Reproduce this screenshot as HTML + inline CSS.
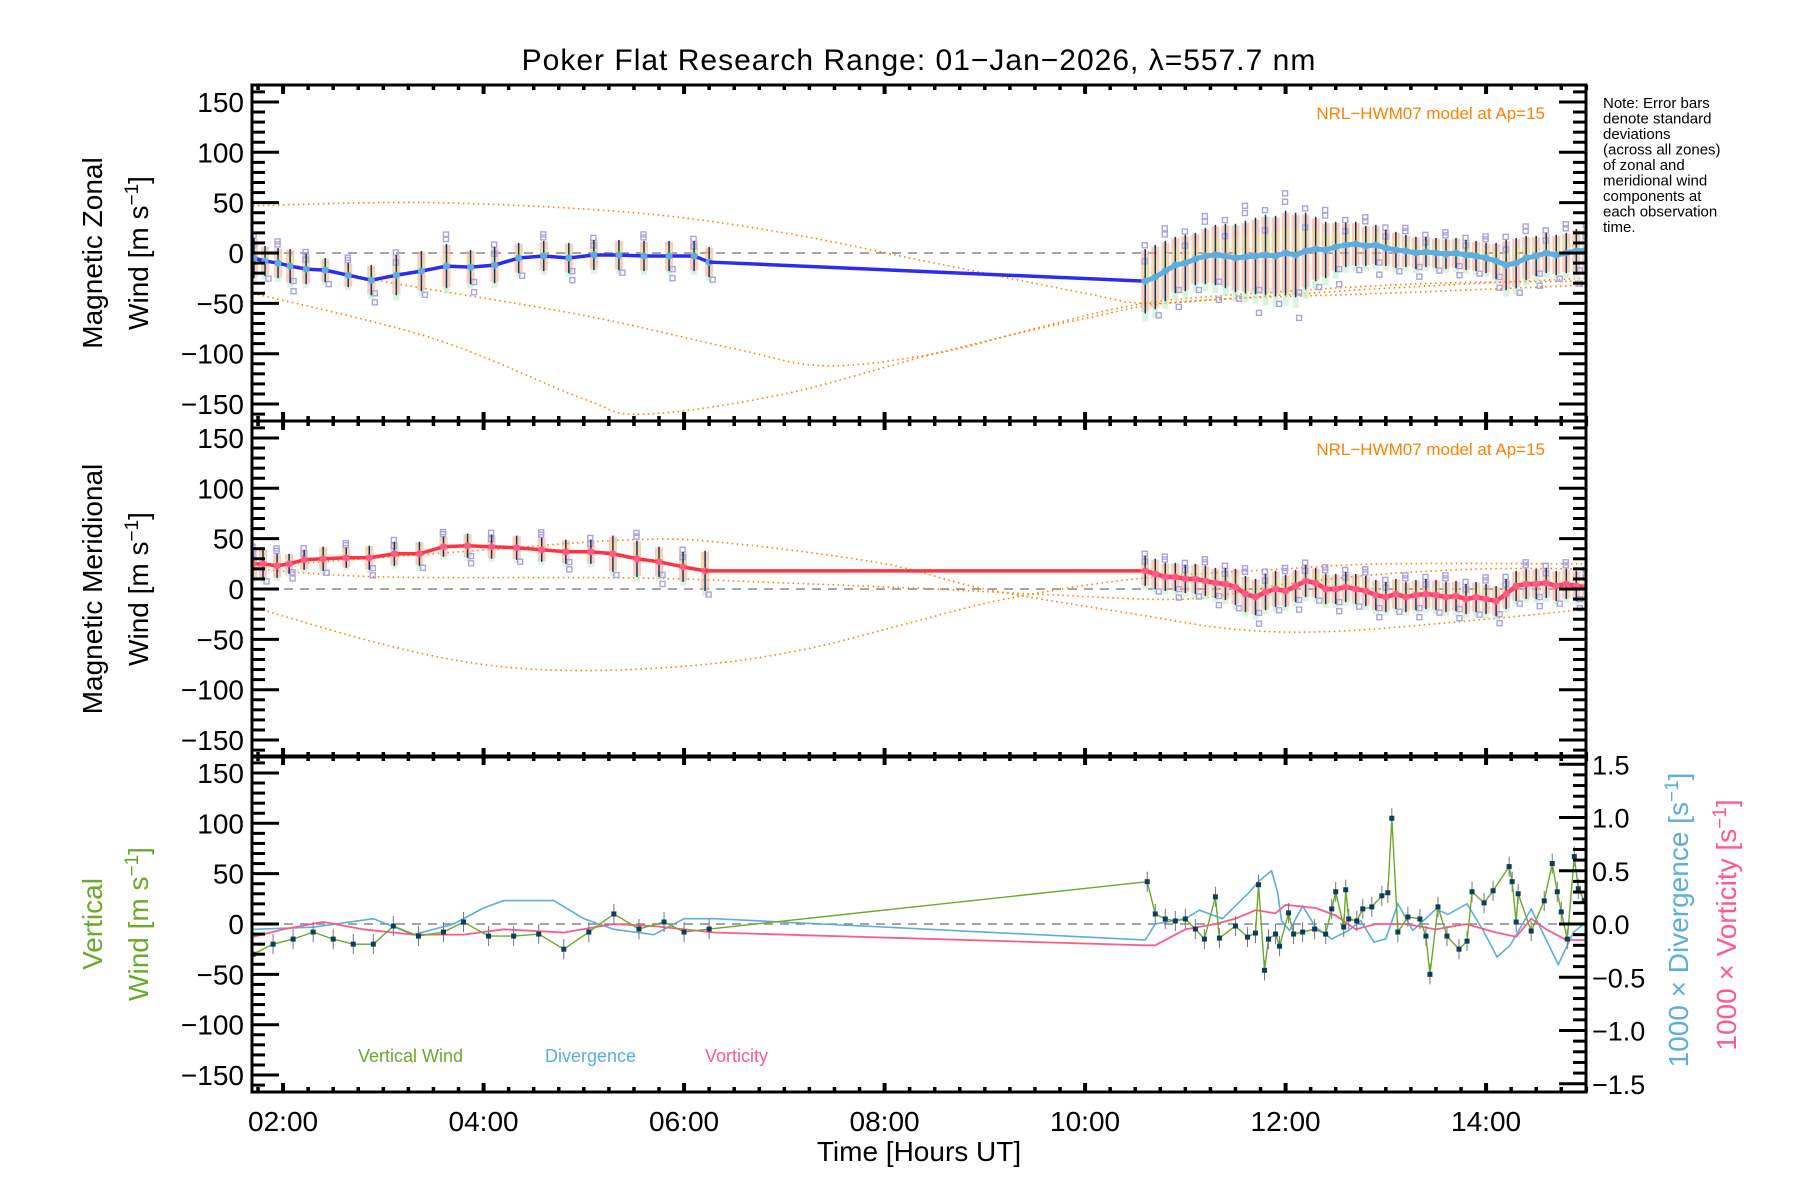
<!DOCTYPE html>
<html><head><meta charset="utf-8"><style>
html,body{margin:0;padding:0;background:#fff;}
svg{display:block;font-family:"Liberation Sans",sans-serif;}
</style></head><body>
<svg id="chart" width="1800" height="1200" viewBox="0 0 1800 1200" xmlns="http://www.w3.org/2000/svg">
<rect width="1800" height="1200" fill="#fff"/>
<text x="919" y="70" font-size="30" text-anchor="middle" letter-spacing="1">Poker Flat Research Range: 01−Jan−2026, λ=557.7 nm</text>
<g id="layer"></g>
</svg>
<script>
// ---------- data ----------
const xTickLabels = ["02:00","04:00","06:00","08:00","10:00","12:00","14:00"];
const xTickHours = [2,4,6,8,10,12,14];
const windTicks = [150,100,50,0,-50,-100,-150];
const windTickLabels = ["150","100","50","0","−50","−100","−150"];
const rightTicks = [1.5,1.0,0.5,0.0,-0.5,-1.0,-1.5];
const rightTickLabels = ["1.5","1.0","0.5","0.0","−0.5","−1.0","−1.5"];

// zonal
const zonalEarlyT = [1.71,1.82,1.95,2.07,2.23,2.42,2.65,2.88,3.13,3.38,3.63,3.87,4.11,4.35,4.60,4.85,5.10,5.35,5.60,5.85,6.10,6.25];
const zonalEarlyV = [-5,-8,-10,-13,-16,-17,-22,-27,-22,-18,-13,-14,-12,-5,-3,-5,-2,-2,-3,-3,-3,-9];
const zonalEarlySd = [20,15,15,17,15,12,12,15,20,20,22,17,18,15,15,15,15,15,15,15,15,15];
const zonalLateT = [10.6,10.7,10.8,10.9,11.0,11.1,11.2,11.3,11.4,11.5,11.6,11.7,11.8,11.9,12.0,12.1,12.2,12.3,12.4,12.5,12.6,12.7,12.8,12.9,13.0,13.1,13.2,13.3,13.4,13.5,13.6,13.7,13.8,13.9,14.0,14.1,14.2,14.3,14.4,14.5,14.6,14.7,14.8,14.9,15.0];
const zonalLateV = [-28,-24,-18,-12,-10,-6,-3,-2,-3,-5,-4,-3,-2,-3,0,-2,2,4,3,6,8,9,7,8,5,3,2,0,1,0,-1,0,-2,-3,-5,-8,-12,-10,-5,-3,0,-2,0,2,3];
const zonalLateSd = [32,32,30,28,28,26,28,30,32,34,36,38,40,40,42,42,38,32,28,25,22,22,20,20,18,18,16,16,15,15,15,15,15,15,15,18,25,25,22,20,20,20,20,22,22];
const zonalModelA_T = [1.7,3.5,5.5,7,8.5,10,10.6,11.5,13,15];
const zonalModelA = [47,50,40,20,-10,-40,-50,-45,-35,-25];
const zonalModelB_T = [1.7,3.1,5,6.5,7.4,8.5,9.5,10.6,12,13.5,15];
const zonalModelB = [-5,-30,-62,-95,-112,-100,-75,-50,-38,-30,-28];
const zonalModelC_T = [1.7,3.5,5,5.6,7,8.5,10,11,13,15];
const zonalModelC = [-40,-85,-145,-160,-140,-100,-65,-48,-40,-32];

// meridional
const merEarlyT = [1.70,1.80,1.94,2.06,2.21,2.40,2.63,2.86,3.11,3.36,3.60,3.84,4.08,4.33,4.58,4.82,5.07,5.29,5.53,5.75,5.99,6.21];
const merEarlyV = [25,25,23,25,29,30,31,31,35,35,42,43,42,41,39,37,37,35,30,27,22,18];
const merEarlySd = [15,15,12,10,10,12,10,12,12,12,10,12,12,12,12,12,12,18,18,15,15,20];
const merLateT = zonalLateT;
const merLateV = [18,15,12,12,10,10,8,6,5,2,-5,-8,-3,0,-2,3,8,6,0,0,2,0,-2,-6,-8,-5,-8,-6,-5,-6,-8,-7,-10,-8,-10,-12,-5,3,5,5,6,3,5,3,2];
const merLateSd = [15,15,14,14,14,15,15,15,16,18,18,18,18,18,16,16,16,15,15,15,15,15,15,15,15,15,15,15,15,15,15,15,15,15,15,15,15,15,15,15,15,15,15,15,15];
const merModelA_T = [1.7,3.5,5.5,6.5,8,9,10.5,11.5,12.5,14,15];
const merModelA = [22,35,49,45,25,0,-25,-40,-42,-30,-20];
const merModelB_T = [1.7,3,5.5,7,8.5,9.5,11,12,13,14,15];
const merModelB = [20,12,11,6,0,-5,-10,5,15,20,20];
const merModelC_T = [1.7,3,4,5,6.2,7.2,8.2,9.2,10.5,12,13,15];
const merModelC = [-18,-55,-75,-81,-75,-60,-35,-10,10,20,25,25];

// vertical
const vertT = [1.7,1.9,2.1,2.3,2.5,2.7,2.9,3.1,3.35,3.6,3.8,4.05,4.3,4.55,4.8,5.05,5.3,5.55,5.8,6.0,6.25,10.62,10.7,10.8,10.9,11.0,11.1,11.19,11.3,11.34,11.5,11.62,11.7,11.73,11.79,11.83,11.9,11.94,12.03,12.08,12.17,12.29,12.4,12.46,12.5,12.58,12.6,12.63,12.71,12.77,12.86,12.96,13.02,13.06,13.12,13.22,13.34,13.4,13.44,13.52,13.61,13.73,13.81,13.86,13.98,14.07,14.23,14.26,14.3,14.32,14.45,14.58,14.66,14.71,14.75,14.81,14.88,14.92,14.98];
const vertV = [-30,-20,-15,-8,-15,-20,-20,-2,-12,-8,2,-12,-12,-10,-25,-8,10,-5,2,-8,-5,42,10,5,3,5,-5,-15,27,-14,-2,-13,-9,39,-46,-15,-10,-22,11,-10,-8,-5,-10,15,32,-3,34,5,3,15,17,28,31,105,-8,7,5,-12,-50,17,-12,-25,-17,32,21,33,57,42,2,30,-7,23,60,32,12,-15,67,35,23];
const divT = [1.7,2.3,2.9,3.3,3.7,4.0,4.2,4.7,5.0,5.3,5.7,6.0,6.3,10.6,10.7,11.0,11.14,11.37,11.64,11.73,11.86,11.92,11.96,12.04,12.17,12.3,12.46,12.63,12.75,12.88,13.0,13.12,13.27,13.5,13.62,13.81,13.97,14.11,14.24,14.45,14.72,14.87,15.0];
const divV = [-0.05,-0.03,0.05,-0.1,0.0,0.15,0.22,0.22,0.05,-0.05,-0.1,0.05,0.05,-0.15,0.0,0.05,0.13,0.05,0.3,0.4,0.5,0.3,0.03,-0.06,0.17,-0.03,-0.14,-0.06,0.03,-0.17,-0.14,0.19,-0.06,0.14,0.09,0.19,-0.06,-0.31,-0.2,0.14,-0.38,-0.08,0.02];
const vortT = [1.7,2.0,2.4,2.8,3.3,3.8,4.2,4.8,5.3,5.7,6.3,10.6,10.7,11.0,11.3,11.5,11.7,11.9,12.0,12.3,12.5,12.7,12.9,13.2,13.5,13.8,14.1,14.3,14.45,14.6,14.8,15.0];
const vortV = [-0.12,-0.05,0.02,-0.05,-0.1,-0.1,-0.05,-0.08,0.0,-0.02,-0.08,-0.2,-0.2,-0.05,0.0,0.05,0.13,0.1,0.18,0.15,0.08,-0.05,0.0,0.0,-0.05,0.0,-0.08,-0.12,0.05,-0.05,-0.15,-0.15];
const scatterOffsets = [1.1,-0.9,1.4,-1.2,0.6,-1.5,1.2];

// ---------- geometry ----------
const L=252, R=1586, TOP=[85,421,756], PH=336;
const X = t => L + (t-1.69)*100.25;
const Y = (p,v) => TOP[p] + 168 - v*1.007;
const YR = v => TOP[2] + 168 - v*106.5;
const NS="http://www.w3.org/2000/svg";
const layer=document.getElementById('layer');
function mk(tag, attrs, parent){ const e=document.createElementNS(NS,tag); for(const k in attrs) e.setAttribute(k,attrs[k]); (parent||layer).appendChild(e); return e; }
function txt(s, attrs, parent){ const e=mk('text',attrs,parent); e.textContent=s; return e; }
function smoothPath(xs, ys){
  let d=`M${xs[0]},${ys[0]}`;
  for(let i=0;i<xs.length-1;i++){
    const x0=xs[Math.max(i-1,0)],y0=ys[Math.max(i-1,0)],x1=xs[i],y1=ys[i],x2=xs[i+1],y2=ys[i+1],x3=xs[Math.min(i+2,xs.length-1)],y3=ys[Math.min(i+2,ys.length-1)];
    d+=` C${x1+(x2-x0)/6},${y1+(y2-y0)/6} ${x2-(x3-x1)/6},${y2-(y3-y1)/6} ${x2},${y2}`;
  }
  return d;
}
function clipFor(p){ return `url(#clip${p})`; }
const defs=mk('defs',{});
for(let p=0;p<3;p++){ const c=mk('clipPath',{id:'clip'+p},defs); mk('rect',{x:L,y:TOP[p],width:R-L,height:PH},c); }

// ---------- panel content ----------
function model(p, ts, vs, name){
  const e=mk('path',{d:smoothPath(ts.map(X), vs.map(v=>Y(p,v))),fill:'none',stroke:'#ff8000','stroke-width':1.6,'stroke-dasharray':'1.5 3.5','clip-path':clipFor(p)});
  
  
}
function windSeries(p, ts, vs, sds, lineColor, lineW, dotColor, name){
  const g=mk('g',{'clip-path':clipFor(p)});
  
  
  ts.forEach((t,i)=>{
    const x=X(t), sd=sds[i];
    mk('rect',{x:x-4,y:Y(p,vs[i]+sd*0.95),width:8,height:sd*1.9*1.007,fill:'#f9a98f',opacity:0.6},g);
    mk('rect',{x:x-3,y:Y(p,vs[i]+sd*0.6),width:6,height:sd*0.5*1.007,fill:'#f5e890',opacity:0.6},g);
    mk('rect',{x:x-3,y:Y(p,vs[i]-sd*0.9),width:6,height:sd*0.35*1.007,fill:'#bfeec8',opacity:0.6},g);
    scatterOffsets.forEach((o,j)=>{ if((i+j)%4===0) mk('rect',{x:x-3+(j%2)*4,y:Y(p,vs[i]+o*sd)-3,width:5,height:5,fill:'none',stroke:'#a9a4e0','stroke-width':1.4},g); });
  });
  ts.forEach((t,i)=>{ const x=X(t); mk('line',{x1:x,x2:x,y1:Y(p,vs[i]+sds[i]),y2:Y(p,vs[i]-sds[i]),stroke:'#0b3d5c','stroke-width':1.5},g); });
  mk('polyline',{points:ts.map((t,i)=>X(t)+','+Y(p,vs[i])).join(' '),fill:'none',stroke:lineColor,'stroke-width':lineW,'stroke-linejoin':'round'},g);
  ts.forEach((t,i)=>{ mk('circle',{cx:X(t),cy:Y(p,vs[i]),r:3.5,fill:dotColor},g); });
}
// zero lines
for(let p=0;p<3;p++){ const z=mk('line',{x1:L,x2:R,y1:Y(p,0),y2:Y(p,0),stroke:'#888','stroke-width':1.5,'stroke-dasharray':'9 7'});   }

// panel 1
model(0,zonalModelA_T,zonalModelA,'zonal-model-a');
model(0,zonalModelB_T,zonalModelB,'zonal-model-b');
model(0,zonalModelC_T,zonalModelC,'zonal-model-c');
windSeries(0,zonalEarlyT,zonalEarlyV,zonalEarlySd,'#2b2bf5',3.5,'#5aaee0','zonal-early-series');
(function(){ const e=mk('line',{x1:X(zonalEarlyT[zonalEarlyT.length-1]),y1:Y(0,zonalEarlyV[zonalEarlyV.length-1]),x2:X(zonalLateT[0]),y2:Y(0,zonalLateV[0]),stroke:'#2b2bf5','stroke-width':3.5});
   })();
windSeries(0,zonalLateT,zonalLateV,zonalLateSd,'#5aaee0',5,'#5aaee0','zonal-late-series');
// panel 2
model(1,merModelA_T,merModelA,'meridional-model-a');
model(1,merModelB_T,merModelB,'meridional-model-b');
model(1,merModelC_T,merModelC,'meridional-model-c');
windSeries(1,merEarlyT,merEarlyV,merEarlySd,'#ff3340',3.5,'#ff5a8a','meridional-early-series');
(function(){ const e=mk('line',{x1:X(merEarlyT[merEarlyT.length-1]),y1:Y(1,merEarlyV[merEarlyV.length-1]),x2:X(merLateT[0]),y2:Y(1,merLateV[0]),stroke:'#ff3340','stroke-width':3.5});
   })();
windSeries(1,merLateT,merLateV,merLateSd,'#ff4060',4.5,'#ff5a8a','meridional-late-series');

// panel 3
(function(){
  const g=mk('g',{'clip-path':clipFor(2)});
   
  const d=mk('polyline',{points:divT.map((t,i)=>X(t)+','+YR(divV[i])).join(' '),fill:'none',stroke:'#5aaee0','stroke-width':1.6},g);
   
  const v=mk('polyline',{points:vortT.map((t,i)=>X(t)+','+YR(vortV[i])).join(' '),fill:'none',stroke:'#ff5a8a','stroke-width':1.8},g);
   
  vertT.forEach((t,i)=>{ mk('line',{x1:X(t),x2:X(t),y1:Y(2,vertV[i]+10),y2:Y(2,vertV[i]-10),stroke:'#777','stroke-width':1},g); });
  const w=mk('polyline',{points:vertT.map((t,i)=>X(t)+','+Y(2,vertV[i])).join(' '),fill:'none',stroke:'#6aaa2a','stroke-width':1.4},g);
   
  vertT.forEach((t,i)=>{ const m=mk('rect',{x:X(t)-2.5,y:Y(2,vertV[i])-2.5,width:5,height:5,fill:'#0b3d5c'},g);
      });
})();

// ---------- axes ----------
for(let p=0;p<3;p++){
  const fr=mk('rect',{x:L,y:TOP[p],width:R-L,height:PH,fill:'none',stroke:'#000','stroke-width':3});
   
  for(let m=0;m<=60;m++){
    const t=1.75+m*0.25; if(t>15) break; const x=X(t); const major=Math.abs(t-Math.round(t))<1e-6 && Math.round(t)%2===0; const len=major?9:5;
    mk('line',{x1:x,x2:x,y1:TOP[p],y2:TOP[p]+len,stroke:'#000','stroke-width':major?4:3.5});
    mk('line',{x1:x,x2:x,y1:TOP[p]+PH,y2:TOP[p]+PH-len,stroke:'#000','stroke-width':major?4:3.5});
  }
  for(let v=-160;v<=160;v+=10){
    const y=Y(p,v); const major=v%50===0; const len=major?27:13;
    mk('line',{x1:L,x2:L+len,y1:y,y2:y,stroke:'#000','stroke-width':3});
    if(p<2) mk('line',{x1:R,x2:R-len,y1:y,y2:y,stroke:'#000','stroke-width':3});
  }
  windTicks.forEach((v,i)=>{ const e=txt(windTickLabels[i],{x:L-8,y:Y(p,v)+10,'font-size':28,'text-anchor':'end'});
      });
}
for(let k=-15;k<=15;k++){ const v=k/10; const y=YR(v); const major=k%5===0; const len=major?27:13;
  mk('line',{x1:R,x2:R-len,y1:y,y2:y,stroke:'#000','stroke-width':3}); }
rightTicks.forEach((v,i)=>{ const e=txt(rightTickLabels[i],{x:R+6,y:YR(v)+10,'font-size':27});
    });
xTickHours.forEach((h,i)=>{ const e=txt(xTickLabels[i],{x:X(h),y:1131,'font-size':28,'text-anchor':'middle'});
    });
</script>
<div style="position:absolute;left:0;top:0;width:1800px;height:1200px;pointer-events:none;">
<svg width="1800" height="1200" style="position:absolute;left:0;top:0" font-family="Liberation Sans, sans-serif">
<text x="919" y="1161" font-size="28" text-anchor="middle">Time [Hours UT]</text>
<text transform="translate(102,253) rotate(-90)" font-size="28" text-anchor="middle">Magnetic Zonal</text>
<text transform="translate(148,253) rotate(-90)" font-size="28" text-anchor="middle">Wind [m s<tspan dy="-10" font-size="19">−1</tspan><tspan dy="10">]</tspan></text>
<text transform="translate(102,589) rotate(-90)" font-size="28" text-anchor="middle">Magnetic Meridional</text>
<text transform="translate(148,589) rotate(-90)" font-size="28" text-anchor="middle">Wind [m s<tspan dy="-10" font-size="19">−1</tspan><tspan dy="10">]</tspan></text>
<text transform="translate(102,924) rotate(-90)" font-size="28" text-anchor="middle" fill="#6aaa2a">Vertical</text>
<text transform="translate(148,924) rotate(-90)" font-size="28" text-anchor="middle" fill="#6aaa2a">Wind [m s<tspan dy="-10" font-size="19">−1</tspan><tspan dy="10">]</tspan></text>
<text transform="translate(1688,920) rotate(-90)" font-size="28" text-anchor="middle" fill="#5aaee0">1000 × Divergence [s<tspan dy="-10" font-size="19">−1</tspan><tspan dy="10">]</tspan></text>
<text transform="translate(1736,925) rotate(-90)" font-size="28" text-anchor="middle" fill="#ff5a8a">1000 × Vorticity [s<tspan dy="-10" font-size="19">−1</tspan><tspan dy="10">]</tspan></text>
<text x="1545" y="119" font-size="17" text-anchor="end" fill="#ff8000">NRL−HWM07 model at Ap=15</text>
<text x="1545" y="455" font-size="17" text-anchor="end" fill="#ff8000">NRL−HWM07 model at Ap=15</text>
<text x="358" y="1062" font-size="18" fill="#6aaa2a">Vertical Wind</text>
<text x="545" y="1062" font-size="18" fill="#5aaee0">Divergence</text>
<text x="705" y="1062" font-size="18" fill="#ff5a8a">Vorticity</text>
<g font-size="15" fill="#000">
<text x="1603" y="108">Note: Error bars</text>
<text x="1603" y="123.5">denote standard</text>
<text x="1603" y="139">deviations</text>
<text x="1603" y="154.5">(across all zones)</text>
<text x="1603" y="170">of zonal and</text>
<text x="1603" y="185.5">meridional wind</text>
<text x="1603" y="201">components at</text>
<text x="1603" y="216.5">each observation</text>
<text x="1603" y="232">time.</text>
</g>
</svg>
</div>
</body></html>
